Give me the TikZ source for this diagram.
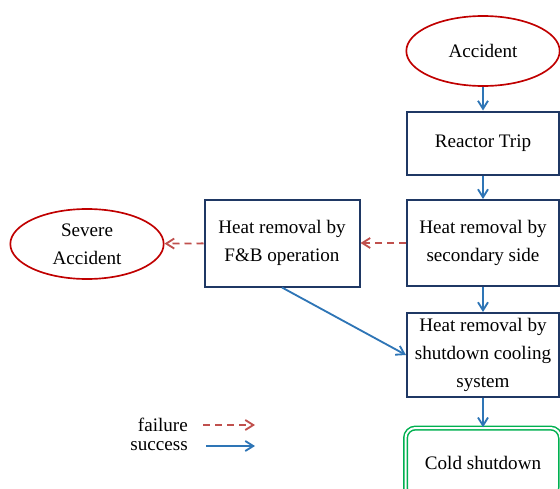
\documentclass[tikz,border=0pt]{standalone}
\usepackage{fontspec}
\setmainfont{Liberation Serif}
\usetikzlibrary{arrows.meta,shapes.geometric}
\definecolor{boxblue}{RGB}{31,56,100}
\definecolor{ellred}{RGB}{192,0,0}
\definecolor{failred}{RGB}{192,80,77}
\definecolor{succblue}{RGB}{46,117,182}
\definecolor{coldgreen}{RGB}{0,176,80}
\tikzset{
	stepbox/.style={draw=boxblue, line width=0.6mm, fill=white, align=center, inner sep=0pt, minimum width=45.6mm},
	endoval/.style={ellipse, draw=ellred, line width=0.5mm, align=center, inner sep=0pt, minimum width=46mm, minimum height=21mm},
	succ/.style={draw=succblue, line width=0.55mm, -{Straight Barb[length=2.4mm,width=3mm]}},
	fail/.style={draw=failred, line width=0.55mm, dash pattern=on 2.1mm off 1.5mm, -{Straight Barb[length=2.4mm,width=3mm]}}
}

\begin{document}
\begin{tikzpicture}[x=0.3mm, y=-0.3mm, font=\fontsize{16.3}{24}\selectfont]
		%%%%% START %%%%%
		\useasboundingbox (0, 0) rectangle (560, 489);
		\clip (0, 0) rectangle (560, 489);
		
		\node[endoval] (acc) at (483, 51) {Accident};
		\node[stepbox, minimum height=18.9mm] (trip) at (483, 143) {Reactor Trip};
		\node[stepbox, minimum height=25.8mm] (sec) at (483, 243) {Heat removal by\\secondary side};
		\node[stepbox, minimum width=46.5mm, minimum height=26.1mm] (fb) at (282, 243) {Heat removal by\\F\&B operation};
		\node[endoval] (severe) at (87, 244) {Severe\\Accident};
		\node[stepbox, minimum height=25.2mm] (sdc) at (483, 355) {Heat removal by\\shutdown cooling\\system};
		\node[draw=coldgreen, double=white, double distance=0.6mm, line width=0.45mm, rounded corners=3mm,
			minimum width=46.5mm, minimum height=21mm, inner sep=0pt] (cold) at (483, 463) {Cold shutdown};
		
		\draw[succ] (acc) -- (trip);
		\draw[succ] (trip) -- (sec);
		\draw[succ] (sec) -- (sdc);
		\draw[succ] (sdc) -- (cold);
		\draw[succ] (fb.south) -- (sdc.west);
		
		\draw[fail] (sec) -- (fb);
		\draw[fail] (fb) -- (severe);
		
		% legend
		\node[anchor=east, inner sep=0pt] (failtxt) at (188, 425) {failure};
		\node[anchor=east, inner sep=0pt] (succtxt) at (188, 446) {success};
		\coordinate (failend) at (255, 425);
		\coordinate (succend) at (255, 446);
		\draw[fail] ([xshift=4.5mm]failtxt.east) -- (failend);
		\draw[succ] ([xshift=5.4mm]succtxt.east) -- (succend);
		
		%%%%% END %%%%%
	\end{tikzpicture}
\end{document}
